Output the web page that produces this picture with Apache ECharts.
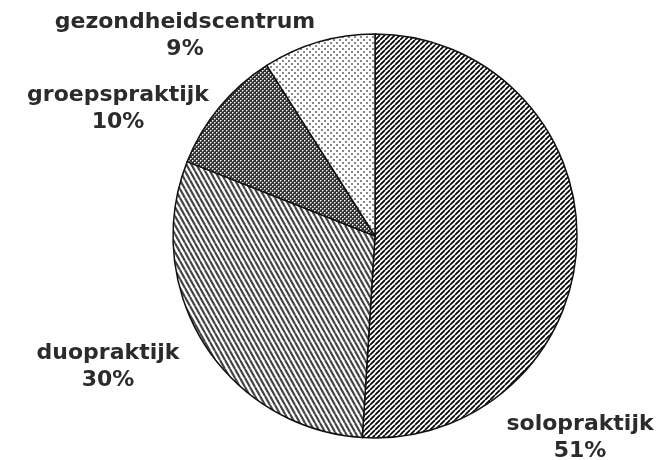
<!DOCTYPE html>
<html><head><meta charset="utf-8">
<script src="https://cdn.jsdelivr.net/npm/echarts@6/dist/echarts.min.js"></script>
<style>html,body{margin:0;padding:0;background:#fff}#c{width:661px;height:460px}</style>
</head><body><div id="c"></div>
<script>
const categories = ['solopraktijk', 'duopraktijk', 'groepspraktijk', 'gezondheidscentrum'];
const shares = [51, 30, 10, 9];
const labelPositions = [[580, 438], [108, 367], [118, 109], [185, 36]];

function tile(w, h, draw) {
  const c = document.createElement('canvas');
  c.width = w; c.height = h;
  const x = c.getContext('2d');
  x.fillStyle = '#fff'; x.fillRect(0, 0, w, h);
  draw(x, w, h);
  return c;
}
const soloPat = tile(5, 5, (x, w, h) => {
  x.strokeStyle = '#000'; x.lineWidth = 1.7; x.beginPath();
  for (let k = -1; k <= 1; k++) { x.moveTo(k * w, h); x.lineTo(k * w + w, 0); }
  x.stroke();
});
const duoPat = tile(5, 9, (x, w, h) => {
  x.strokeStyle = '#444'; x.lineWidth = 2.2; x.beginPath();
  for (let k = -1; k <= 1; k++) { x.moveTo(k * w, 0); x.lineTo(k * w + w, h); }
  x.stroke();
});
const groepPat = tile(4, 4, (x) => {
  x.fillStyle = '#333'; x.fillRect(0, 0, 4, 4);
  x.fillStyle = '#fff'; x.fillRect(0, 0, 1, 1); x.fillRect(2, 2, 1, 1);
  x.fillStyle = '#999'; x.fillRect(1, 0, 1, 1); x.fillRect(0, 1, 1, 1); x.fillRect(3, 2, 1, 1); x.fillRect(2, 3, 1, 1);
});
const gezPat = tile(6, 6, (x) => {
  x.fillStyle = '#888'; x.fillRect(0, 0, 2, 2); x.fillRect(3, 3, 2, 2);
});
const patterns = [soloPat, duoPat, groepPat, gezPat];

const chart = echarts.init(document.getElementById('c'), null, { renderer: 'canvas' });
chart.setOption({
  backgroundColor: '#fff',
  animation: false,
  series: [{
    type: 'pie',
    center: [375, 236],
    radius: 202,
    startAngle: 90,
    clockwise: true,
    avoidLabelOverlap: false,
    silent: true,
    data: categories.map((n, i) => ({ name: n, value: shares[i], itemStyle: { color: { image: patterns[i], repeat: 'repeat' } } })),
    itemStyle: { borderColor: '#111', borderWidth: 1.5 },
    label: {
      show: true, position: 'outside', formatter: '{b}\n{c}%',
      color: '#2b2b2b', fontFamily: 'DejaVu Sans', fontWeight: 'bold', fontSize: 22, lineHeight: 27, align: 'center'
    },
    labelLine: { show: false },
    labelLayout: (p) => ({ x: labelPositions[p.dataIndex][0], y: labelPositions[p.dataIndex][1], align: 'center', verticalAlign: 'middle' }),
    emphasis: { disabled: true }
  }]
});
</script></body></html>
